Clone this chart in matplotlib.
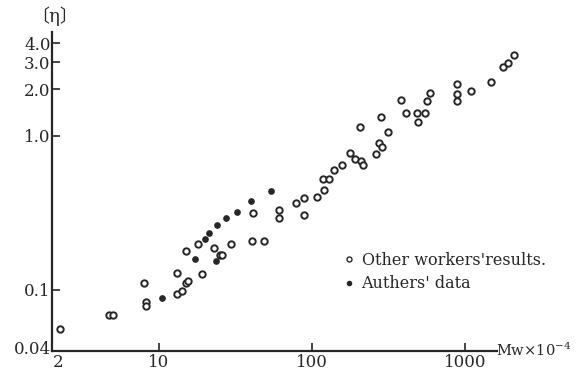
import matplotlib
matplotlib.use("Agg")
import matplotlib.pyplot as plt
import matplotlib.transforms as mtransforms
from matplotlib.lines import Line2D

# Mw x 10^-4 and intrinsic viscosity [eta]
other_mw = [2.25, 4.71, 5.0, 7.98, 8.22, 8.22, 13.1, 13.1, 14.1, 15.0, 15.5,
            15.0, 19.1, 18.0, 22.9, 25.0, 25.8, 29.6, 40.5, 48.5, 41.1, 60.8,
            60.8, 78.5, 88.6, 88.6, 108, 120, 118, 129, 139, 157, 177, 191,
            209, 215, 206, 262, 274, 287, 283, 314, 382, 411, 485, 493, 548,
            565, 591, 887, 887, 887, 1094, 1479, 1771, 1910, 2089]
other_eta = [0.0556, 0.0684, 0.0684, 0.1107, 0.0832, 0.0783, 0.128, 0.0938,
             0.0981, 0.1106, 0.1138, 0.178, 0.1264, 0.198, 0.187, 0.168, 0.168,
             0.198, 0.207, 0.207, 0.315, 0.330, 0.292, 0.366, 0.394, 0.306,
             0.400, 0.444, 0.523, 0.523, 0.598, 0.645, 0.773, 0.706, 0.685,
             0.645, 1.14, 0.761, 0.897, 0.845, 1.32, 1.06, 1.71, 1.40, 1.40,
             1.23, 1.40, 1.68, 1.89, 2.17, 1.86, 1.68, 1.95, 2.23, 2.79, 2.97,
             3.34]

auth_mw = [10.5, 17.2, 23.6, 20.0, 21.2, 23.9, 27.4, 32.4, 39.9, 54.0]
auth_eta = [0.0883, 0.158, 0.153, 0.213, 0.233, 0.263, 0.292, 0.320, 0.377, 0.438]

xticks = [2, 10, 100, 1000]
xtick_labels = ["2", "10", "100", "1000"]
yticks = [0.04, 0.1, 1.0, 2.0, 3.0, 4.0]
ytick_labels = ["0.04", "0.1", "1.0", "2.0", "3.0", "4.0"]

serif = ["DejaVu Serif"]
ink = "#262626"
plt.rcParams["mathtext.fontset"] = "dejavuserif"

fig = plt.figure(figsize=(5.76, 3.74), dpi=100)
ax = fig.add_axes([52 / 576, 23 / 374, 524 / 576, 319 / 374])
ax.set_xscale("log")
ax.set_yscale("log")
ax.set_xlim(2, 5324)
ax.set_ylim(0.04, 4.72)

ax.plot(other_mw, other_eta, "o", ms=4.6, mfc="white", mec=ink, mew=1.4, ls="none")
ax.plot(auth_mw, auth_eta, "o", ms=3.8, mfc=ink, mec=ink, ls="none")

for s in ["top", "right"]:
    ax.spines[s].set_visible(False)
ax.spines["bottom"].set_bounds(2, 1620)
ax.spines["bottom"].set_linewidth(1.6)
ax.spines["left"].set_linewidth(1.6)
ax.spines["bottom"].set_color(ink)
ax.spines["left"].set_color(ink)

ax.set_xticks(xticks)
ax.set_xticklabels(xtick_labels, family=serif, fontsize=12, color=ink)
ax.set_yticks(yticks)
ax.set_yticklabels(ytick_labels, family=serif, fontsize=12, color=ink)
ax.minorticks_off()
ax.tick_params(axis="both", direction="in", length=6, width=1.2, color=ink, pad=1)
ax.tick_params(axis="x", pad=2)

# nudge the corner labels apart, as in the original
shift_x = mtransforms.ScaledTranslation(6 / 100, 0, fig.dpi_scale_trans)
lab2 = ax.get_xticklabels()[0]
lab2.set_transform(lab2.get_transform() + shift_x)
shift_y = mtransforms.ScaledTranslation(0, 3 / 100, fig.dpi_scale_trans)
lab004 = ax.get_yticklabels()[0]
lab004.set_transform(lab004.get_transform() + shift_y)

# axis titles
fig.text(55 / 576, 1 - 16 / 374, "〔η〕", family=["DejaVu Serif", "Noto Sans CJK JP"],
         fontsize=13, ha="center", va="center", color=ink)
fig.text(496 / 576, 1 - 350 / 374, r"Mw$\times$10$^{-4}$", family=serif,
         fontsize=10.5, ha="left", va="center", color=ink)

handles = [
    Line2D([], [], marker="o", ls="none", ms=3.6, mfc="white", mec=ink, mew=1.0),
    Line2D([], [], marker="o", ls="none", ms=3.0, mfc=ink, mec=ink),
]
leg = ax.legend(handles, ["Other workers'results.", "Authers' data"],
                frameon=False, loc="upper left",
                bbox_to_anchor=(344 / 576, 1 - 252 / 374), bbox_transform=fig.transFigure,
                prop={"family": serif, "size": 11.5}, handlelength=0.6, handletextpad=0.5,
                labelspacing=0.4, borderpad=0, borderaxespad=0)
for t in leg.get_texts():
    t.set_color(ink)

fig.savefig("out.png", dpi=100)
